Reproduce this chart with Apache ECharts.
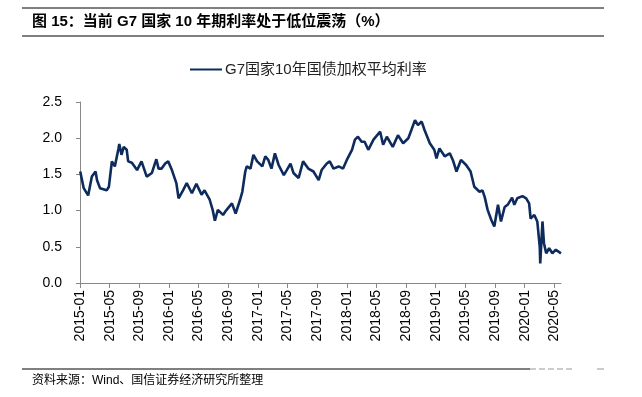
<!DOCTYPE html>
<html>
<head>
<meta charset="utf-8">
<script src="https://cdn.jsdelivr.net/npm/echarts@6/dist/echarts.min.js"></script>
<style>
  html, body { margin: 0; padding: 0; background: #fff; }
  #main { width: 642px; height: 397px; }
</style>
</head>
<body>
<div id="main"></div>
<script>
// G7国家10年国债加权平均利率（%），从图上读的数
var dates = [
  '2015-01-02','2015-01-16','2015-02-04','2015-02-19','2015-03-04','2015-03-10','2015-03-22','2015-04-19','2015-04-28',
  '2015-05-10','2015-05-22','2015-06-07','2015-06-10','2015-06-19','2015-06-28','2015-07-10','2015-07-16','2015-08-01',
  '2015-08-22','2015-09-10','2015-10-01','2015-10-22','2015-11-10','2015-11-19','2015-12-01','2015-12-16','2015-12-28',
  '2016-01-13','2016-02-01','2016-02-10','2016-02-28','2016-03-13','2016-04-04','2016-04-22','2016-05-13','2016-05-25',
  '2016-06-16','2016-06-28','2016-07-07','2016-07-19','2016-08-10','2016-08-22','2016-09-16','2016-10-01','2016-10-19',
  '2016-10-28','2016-11-10','2016-11-16','2016-12-01','2016-12-13','2016-12-28','2017-01-19','2017-02-01','2017-02-13',
  '2017-02-26','2017-03-10','2017-03-25','2017-04-16','2017-04-28','2017-05-13','2017-05-25','2017-06-16','2017-07-04',
  '2017-07-25','2017-08-16','2017-09-07','2017-09-19','2017-10-10','2017-10-22','2017-11-07','2017-11-28','2017-12-16',
  '2018-01-01','2018-01-22','2018-02-04','2018-02-16','2018-03-01','2018-03-13','2018-03-28','2018-04-19','2018-05-16',
  '2018-05-28','2018-06-13','2018-07-07','2018-07-28','2018-08-19','2018-09-10','2018-09-22','2018-10-07','2018-10-19',
  '2018-11-04','2018-11-16','2018-12-07','2018-12-25','2019-01-04','2019-01-16','2019-02-07','2019-02-28','2019-03-10',
  '2019-03-25','2019-04-13','2019-05-04','2019-05-22','2019-06-07','2019-06-28','2019-07-10','2019-07-19','2019-08-01',
  '2019-08-16','2019-08-28','2019-09-13','2019-09-25','2019-10-10','2019-10-22','2019-11-10','2019-11-19','2019-12-01',
  '2019-12-22','2020-01-07','2020-01-19','2020-01-25','2020-02-10','2020-02-22','2020-03-02','2020-03-04','2020-03-13',
  '2020-03-19','2020-03-28','2020-04-10','2020-04-23','2020-05-07','2020-05-28'
];
var rates = [
  1.54,1.31,1.21,1.47,1.54,1.42,1.31,1.28,1.33,
  1.68,1.61,1.86,1.92,1.77,1.88,1.84,1.68,1.66,
  1.56,1.68,1.47,1.52,1.71,1.58,1.58,1.65,1.68,
  1.56,1.38,1.17,1.28,1.38,1.24,1.37,1.22,1.28,
  1.15,1.01,0.86,1.01,0.94,1.00,1.10,0.96,1.15,
  1.26,1.54,1.61,1.58,1.77,1.68,1.61,1.75,1.70,
  1.58,1.79,1.63,1.49,1.56,1.65,1.52,1.45,1.68,
  1.58,1.54,1.42,1.56,1.65,1.68,1.58,1.61,1.58,
  1.70,1.84,1.98,2.02,1.95,1.95,1.84,1.98,2.09,
  1.91,2.02,1.88,2.04,1.93,2.00,2.11,2.25,2.18,
  2.23,2.11,1.93,1.84,1.72,1.86,1.75,1.79,1.70,
  1.54,1.70,1.63,1.54,1.33,1.26,1.28,1.19,1.01,
  0.87,0.78,1.08,0.85,1.05,1.08,1.18,1.08,1.17,
  1.20,1.17,1.10,0.89,0.94,0.85,0.50,0.27,0.85,
  0.55,0.41,0.48,0.41,0.46,0.41
];
var yTicks = [0, 0.5, 1.0, 1.5, 2.0, 2.5];
var xTickMonths = [0,4,8,12,16,20,24,28,32,36,40,44,48,52,56,60,64]; // 从2015-01起的月数

var title = '图 15：当前 G7 国家 10 年期利率处于低位震荡（%）';
var seriesName = 'G7国家10年国债加权平均利率';
var source = '资料来源：Wind、国信证券经济研究所整理';

function toMonth(s) {
  var p = s.split('-');
  return (Number(p[0]) - 2015) * 12 + (Number(p[1]) - 1) + (Number(p[2]) - 1) / 30;
}
function monthLabel(v) {
  var m = Math.round(v);
  var y = 2015 + Math.floor(m / 12);
  var mm = m % 12 + 1;
  return y + '-' + (mm < 10 ? '0' + mm : mm);
}

var lineData = dates.map(function (d, i) { return [toMonth(d), rates[i]]; });

var chart = echarts.init(document.getElementById('main'), null, { renderer: 'canvas' });
var option = {
  backgroundColor: '#ffffff',
  animation: false,
  textStyle: { fontFamily: 'Liberation Sans, Noto Sans CJK SC, sans-serif' },
  legend: {
    top: 62,
    left: 190,
    padding: 0,
    itemWidth: 32,
    itemHeight: 2,
    itemGap: 4,
    icon: 'rect',
    data: [seriesName],
    textStyle: { fontSize: 15, color: '#222', fontFamily: 'Liberation Sans, Noto Sans CJK SC, sans-serif', padding: [0, 0, 0, -2] }
  },
  grid: { left: 80, right: 81, top: 102, bottom: 114 },
  xAxis: {
    type: 'value',
    min: 0,
    max: 64.9,
    interval: 4,
    splitLine: { show: false },
    axisLine: { lineStyle: { color: '#888', width: 1 } },
    axisTick: { show: true, length: 5, lineStyle: { color: '#888' }, customValues: xTickMonths },
    axisLabel: {
      rotate: 90,
      margin: 7,
      fontSize: 14,
      color: '#000',
      customValues: xTickMonths,
      formatter: monthLabel
    }
  },
  yAxis: {
    type: 'value',
    min: 0,
    max: 2.5,
    interval: 0.5,
    splitLine: { show: false },
    axisLine: { show: true, lineStyle: { color: '#888', width: 1 } },
    axisTick: { show: true, length: 4, lineStyle: { color: '#888' } },
    axisLabel: {
      margin: 18,
      fontSize: 14,
      color: '#000',
      formatter: function (v) { return yTicks.indexOf(v) >= 0 ? v.toFixed(1) : ''; }
    }
  },
  series: [{
    name: seriesName,
    type: 'line',
    data: lineData,
    showSymbol: false,
    symbol: 'none',
    lineStyle: { color: '#0d2b5c', width: 2.6 },
    itemStyle: { color: '#0d2b5c' }
  }],
  graphic: [
    { type: 'line', shape: { x1: 22, y1: 8, x2: 604, y2: 8 }, style: { stroke: '#000', lineWidth: 1 } },
    { type: 'text', left: 32, top: 14, style: { text: title, fontSize: 15, fontWeight: 'bold', fill: '#000', fontFamily: 'Liberation Sans, Noto Sans CJK SC, sans-serif' } },
    { type: 'line', shape: { x1: 22, y1: 36, x2: 604, y2: 36 }, style: { stroke: '#000', lineWidth: 1 } },
    { type: 'line', shape: { x1: 22, y1: 369, x2: 530, y2: 369 }, style: { stroke: '#000', lineWidth: 1 } },
    { type: 'line', shape: { x1: 530, y1: 369, x2: 575, y2: 369 }, style: { stroke: '#999', lineWidth: 1, lineDash: [6, 3] } },
    { type: 'line', shape: { x1: 597, y1: 369, x2: 604, y2: 369 }, style: { stroke: '#999', lineWidth: 1 } },
    { type: 'text', left: 32, top: 375, style: { text: source, fontSize: 12, fill: '#000', fontFamily: 'Liberation Sans, Noto Sans CJK SC, sans-serif' } }
  ]
};
chart.setOption(option);
</script>
</body>
</html>
